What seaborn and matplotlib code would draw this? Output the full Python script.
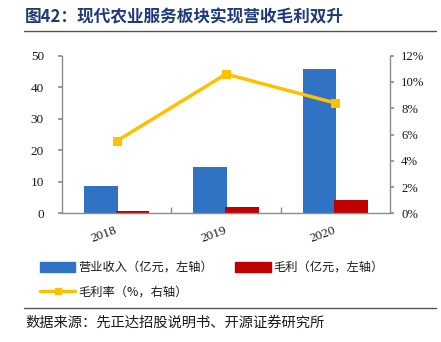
import matplotlib
matplotlib.use("Agg")
import matplotlib.pyplot as plt
import seaborn as sns
import pandas as pd
import numpy as np
from matplotlib.patches import Patch
from matplotlib.lines import Line2D
from matplotlib.ticker import FixedLocator, PercentFormatter

years = ["2018", "2019", "2020"]
revenue = [8.7, 14.8, 45.9]
gross_profit = [0.7, 1.9, 4.1]
margin = [5.5, 10.6, 8.4]

title = "图42：现代农业服务板块实现营收毛利双升"
source = "数据来源：先正达招股说明书、开源证券研究所"
lbl_rev = "营业收入（亿元，左轴）"
lbl_gp = "毛利（亿元，左轴）"
lbl_m = "毛利率（%，右轴）"

sns.set_theme(style="white")
plt.rcParams['font.family'] = ['Liberation Serif', 'Noto Sans CJK SC', 'DejaVu Sans']
CJK = ['Noto Sans CJK SC', 'DejaVu Sans']

BLUE = "#3072C4"
RED = "#C00000"
YELLOW = "#FFC000"
GRAY = "#8C8C8C"

df = pd.DataFrame({
    "year": years * 2,
    "value": revenue + gross_profit,
    "series": [lbl_rev] * 3 + [lbl_gp] * 3,
})

fig = plt.figure(figsize=(4.41, 3.42), dpi=100)
ax = fig.add_axes([62/441, 1 - 213.3/342, (390-62)/441, (213.3-55.7)/342])

sns.barplot(data=df, x="year", y="value", hue="series", palette=[BLUE, RED],
            width=0.58, ax=ax, legend=False, saturation=1, linewidth=0)
# widen bars slightly so the pair overlaps a little, as in the original
for p in ax.patches:
    c = p.get_x() + p.get_width() / 2
    p.set_width(0.31)
    p.set_x(c - 0.155)
    p.set_linewidth(0)
ax.set_xlim(-0.5, 2.5)
ax.set_ylim(0, 50)
ax.set_yticks([0, 10, 20, 30, 40, 50])
ax.set_xlabel("")
ax.set_ylabel("")

ax2 = ax.twinx()
sns.lineplot(x=np.arange(len(years)), y=margin, ax=ax2, color=YELLOW, linewidth=2.5,
             marker="s", markersize=6, markeredgecolor=YELLOW)
ax2.set_ylim(0, 12)
ax2.set_yticks([0, 2, 4, 6, 8, 10, 12])
ax2.yaxis.set_major_formatter(PercentFormatter(decimals=0))

for a in (ax, ax2):
    for s in a.spines.values():
        s.set_color(GRAY)
        s.set_linewidth(1)
    a.spines["top"].set_visible(False)
ax.spines["right"].set_visible(False)
ax2.spines["left"].set_visible(False)
ax2.spines["bottom"].set_visible(False)

ax.tick_params(axis="y", which="major", left=True, length=3, color=GRAY, labelsize=9.5, pad=10)
ax2.tick_params(axis="y", which="major", right=True, length=3, color=GRAY, labelsize=9.2, pad=5)
ax.tick_params(axis="x", which="major", length=0, labelsize=9.5, pad=12)
ax.xaxis.set_minor_locator(FixedLocator([0.5, 1.5]))
ax.tick_params(axis="x", which="minor", bottom=True, direction="in", length=4, color=GRAY)
for t in ax.get_xticklabels():
    t.set_rotation(20)
    t.set_ha("right")
    t.set_va("center")
    t.set_rotation_mode("anchor")
for t in ax.get_yticklabels() + ax2.get_yticklabels() + ax.get_xticklabels():
    t.set_color("#1a1a1a")

# Title and rules
fig.text(25/441, 1 - 17/342, title, family=CJK, fontsize=12, fontweight="bold",
         color="#1F3A7A", va="center", ha="left")
fig.add_artist(Line2D([24/441, 436/441], [1 - 31/342, 1 - 31/342], color="#555555", lw=1))
fig.add_artist(Line2D([24/441, 436/441], [1 - 308/342, 1 - 308/342], color="#555555", lw=1))
fig.text(25/441, 1 - 323/342, source, family=CJK, fontsize=10.3, color="#1a1a1a",
         va="center", ha="left")

handles = [Patch(facecolor=BLUE, edgecolor=BLUE),
           Line2D([], [], color=YELLOW, lw=2.5, marker="s", markersize=5),
           Patch(facecolor=RED, edgecolor=RED)]
labels = [lbl_rev, lbl_m, lbl_gp]
leg = fig.legend(handles, labels, ncol=2, loc="upper left",
                 bbox_to_anchor=(40/441, 1 - 261/342), frameon=False,
                 prop={"family": CJK, "size": 8.8}, handlelength=2.9, handleheight=0.9,
                 columnspacing=1.8, labelspacing=0.95, handletextpad=0.25,
                 borderpad=0, borderaxespad=0)
for t in leg.get_texts():
    t.set_color("#1a1a1a")

fig.savefig("out.png", dpi=100)
